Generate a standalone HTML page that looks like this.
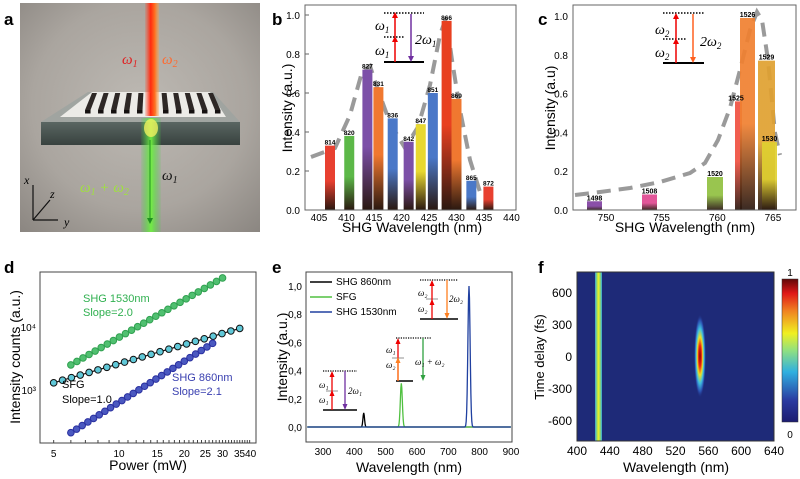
<!DOCTYPE html>
<html><head><meta charset="utf-8"><style>
html,body{margin:0;padding:0;background:#fff;}
svg{display:block;font-family:"Liberation Sans",Arial,sans-serif;}
</style></head><body>
<svg id="s" width="800" height="479" viewBox="0 0 800 479" xmlns="http://www.w3.org/2000/svg">
<defs>
<radialGradient id="bgA" cx="0.5" cy="0.45" r="0.75"><stop offset="0" stop-color="#bdb9b3"/><stop offset="0.6" stop-color="#aaa59f"/><stop offset="1" stop-color="#8a8580"/></radialGradient>
<linearGradient id="redB" x1="0" x2="1"><stop offset="0" stop-color="#ff4020" stop-opacity="0.15"/><stop offset="0.4" stop-color="#ff2a10"/><stop offset="0.7" stop-color="#ff7020"/><stop offset="1" stop-color="#ffa040" stop-opacity="0.3"/></linearGradient>
<linearGradient id="grnB" x1="0" x2="1"><stop offset="0" stop-color="#40d040" stop-opacity="0.1"/><stop offset="0.5" stop-color="#70f040"/><stop offset="1" stop-color="#40d040" stop-opacity="0.1"/></linearGradient>
<linearGradient id="slab" x1="0" y1="0" x2="0" y2="1"><stop offset="0" stop-color="#5a6662"/><stop offset="1" stop-color="#38423f"/></linearGradient>
<linearGradient id="jet" x1="0" y1="1" x2="0" y2="0"><stop offset="0" stop-color="#1c1c70"/><stop offset="0.15" stop-color="#2a3aa0"/><stop offset="0.35" stop-color="#30b0e0"/><stop offset="0.5" stop-color="#90e080"/><stop offset="0.62" stop-color="#f0f020"/><stop offset="0.78" stop-color="#f08020"/><stop offset="0.9" stop-color="#e01818"/><stop offset="1" stop-color="#600808"/></linearGradient>
<radialGradient id="spot" cx="0.5" cy="0.5" r="0.5"><stop offset="0" stop-color="#800000"/><stop offset="0.25" stop-color="#f02010"/><stop offset="0.45" stop-color="#f0e020"/><stop offset="0.65" stop-color="#40c0e0"/><stop offset="0.85" stop-color="#2a50b0"/><stop offset="1" stop-color="#1e2a78" stop-opacity="0"/></radialGradient>
<linearGradient id="band" x1="0" x2="1"><stop offset="0" stop-color="#30a0e0"/><stop offset="0.3" stop-color="#a0e060"/><stop offset="0.5" stop-color="#f0f020"/><stop offset="0.7" stop-color="#a0e060"/><stop offset="1" stop-color="#30a0e0"/></linearGradient>
</defs>

<!-- Panel a -->
<text x="4" y="25" font-size="17" font-weight="bold">a</text>
<rect x="20" y="3" width="240" height="229" fill="url(#bgA)"/>
<polygon points="88,92 213,92 240,122 41,122" fill="#9ea3a0" opacity="0.85"/>
<polygon points="41,122 240,122 240,145 41,145" fill="url(#slab)"/>
<polygon points="92,92 210,92 226,117 60,117" fill="#ecebe7"/>
<g id="grat" fill="#2e2826"></g>
<rect x="145" y="3" width="14" height="113" fill="url(#redB)"/>
<rect x="141" y="118" width="20" height="114" fill="url(#grnB)" opacity="0.95"/>
<ellipse cx="151" cy="128" rx="7" ry="9" fill="#f0f060" opacity="0.8"/>
<line x1="150" y1="140" x2="150" y2="220" stroke="#209020" stroke-width="1"/>
<polygon points="147,218 153,218 150,224" fill="#209020"/>
<text x="122" y="64" font-size="15" font-style="italic" fill="#e02020" font-family="Liberation Serif,serif">ω<tspan font-size="10" dy="3">1</tspan></text>
<text x="162" y="64" font-size="15" font-style="italic" fill="#ff6a30" font-family="Liberation Serif,serif">ω<tspan font-size="10" dy="3">2</tspan></text>
<text x="80" y="192" font-size="15" font-style="italic" fill="#a0e040" font-family="Liberation Serif,serif">ω<tspan font-size="10" dy="3">1</tspan><tspan dy="-3"> + ω</tspan><tspan font-size="10" dy="3">2</tspan></text>
<text x="162" y="180" font-size="15" font-style="italic" fill="#111" font-family="Liberation Serif,serif">ω<tspan font-size="10" dy="3">1</tspan></text>
<g stroke="#111" stroke-width="1.2" fill="none"><line x1="33" y1="220" x2="33" y2="185"/><line x1="33" y1="220" x2="58" y2="220"/><line x1="33" y1="220" x2="50" y2="200"/></g>
<text x="24" y="184" font-size="12" font-style="italic" font-family="Liberation Serif,serif">x</text>
<text x="50" y="198" font-size="12" font-style="italic" font-family="Liberation Serif,serif">z</text>
<text x="64" y="226" font-size="12" font-style="italic" font-family="Liberation Serif,serif">y</text>

<!-- Panel b -->
<text x="272" y="25" font-size="17" font-weight="bold">b</text>
<polyline points="311,157 335,148 350,115 362,72 370,66 378,90 390,123 405,148 418,127 430,85 440,35 446,18 452,60 460,110 470,160 480,192 492,198" fill="none" stroke="#888" stroke-width="4" stroke-dasharray="14,8" opacity="0.85"/>
<g id="bbars"></g>
<rect x="305" y="5" width="211" height="205" fill="none" stroke="#666" stroke-width="1"/>
<text transform="translate(292,108) rotate(-90)" font-size="14" text-anchor="middle">Intensity (a.u.)</text>
<text x="412" y="232" font-size="14" text-anchor="middle">SHG Wavelength (nm)</text>
<g stroke-width="1.5">
<line x1="384" y1="13" x2="424" y2="13" stroke="#000" stroke-dasharray="1.5,1.5"/>
<line x1="384" y1="37" x2="404" y2="37" stroke="#000" stroke-dasharray="1.5,1.5"/>
<line x1="384" y1="62" x2="424" y2="62" stroke="#000" stroke-width="2"/>
<line x1="395" y1="62" x2="395" y2="38" stroke="#e00"/><polygon points="392,42 398,42 395,36" fill="#e00"/>
<line x1="395" y1="37" x2="395" y2="14" stroke="#e00"/><polygon points="392,18 398,18 395,12" fill="#e00"/>
<line x1="411" y1="14" x2="411" y2="58" stroke="#7030a0"/><polygon points="408,56 414,56 411,62" fill="#7030a0"/>
<text x="375" y="30" font-size="14" font-style="italic" font-family="Liberation Serif,serif">ω<tspan font-size="9" dy="3">1</tspan></text>
<text x="375" y="55" font-size="14" font-style="italic" font-family="Liberation Serif,serif">ω<tspan font-size="9" dy="3">1</tspan></text>
<text x="415" y="44" font-size="14" font-style="italic" font-family="Liberation Serif,serif">2ω<tspan font-size="9" dy="3">1</tspan></text>
</g>

<!-- Panel c -->
<text x="538" y="25" font-size="17" font-weight="bold">c</text>
<polyline points="575,195 600,192 630,188 660,182 690,173 705,163 718,140 730,108 740,70 750,30 757,12 762,20 768,60 775,133 780,155" fill="none" stroke="#888" stroke-width="4" stroke-dasharray="14,8" opacity="0.85"/>
<g id="cbars"></g>
<rect x="573" y="5" width="223" height="205" fill="none" stroke="#666" stroke-width="1"/>
<text transform="translate(555,108) rotate(-90)" font-size="14" text-anchor="middle">Intensity (a.u)</text>
<text x="685" y="232" font-size="14" text-anchor="middle">SHG Wavelength (nm)</text>
<g stroke-width="1.5">
<line x1="663" y1="13" x2="704" y2="13" stroke="#000" stroke-dasharray="1.5,1.5"/>
<line x1="663" y1="39" x2="686" y2="39" stroke="#000" stroke-dasharray="1.5,1.5"/>
<line x1="663" y1="63" x2="704" y2="63" stroke="#000" stroke-width="2"/>
<line x1="676" y1="63" x2="676" y2="40" stroke="#e00"/><polygon points="673,44 679,44 676,38" fill="#e00"/>
<line x1="676" y1="39" x2="676" y2="15" stroke="#e00"/><polygon points="673,19 679,19 676,13" fill="#e00"/>
<line x1="693" y1="14" x2="693" y2="59" stroke="#ff6020"/><polygon points="690,57 696,57 693,63" fill="#ff6020"/>
<text x="655" y="34" font-size="14" font-style="italic" font-family="Liberation Serif,serif">ω<tspan font-size="9" dy="3">2</tspan></text>
<text x="655" y="57" font-size="14" font-style="italic" font-family="Liberation Serif,serif">ω<tspan font-size="9" dy="3">2</tspan></text>
<text x="700" y="46" font-size="14" font-style="italic" font-family="Liberation Serif,serif">2ω<tspan font-size="9" dy="3">2</tspan></text>
</g>

<!-- Panel d -->
<text x="4" y="273" font-size="17" font-weight="bold">d</text>
<rect x="40" y="272" width="216" height="171" fill="none" stroke="#444" stroke-width="1"/>
<g id="dplot"></g>
<text transform="translate(20,357) rotate(-90)" font-size="14" text-anchor="middle">Intensity counts (a.u.)</text>
<text x="148" y="470" font-size="14" text-anchor="middle">Power (mW)</text>
<text x="83" y="302" font-size="11" fill="#30b050">SHG 1530nm</text>
<text x="83" y="316" font-size="11" fill="#30b050">Slope=2.0</text>
<text x="62" y="388" font-size="11">SFG</text>
<text x="62" y="403" font-size="11">Slope=1.0</text>
<text x="172" y="381" font-size="11" fill="#3a40b0">SHG 860nm</text>
<text x="172" y="395" font-size="11" fill="#3a40b0">Slope=2.1</text>

<!-- Panel e -->
<text x="272" y="273" font-size="17" font-weight="bold">e</text>
<g id="eplot"></g>
<rect x="306" y="272" width="206" height="170" fill="none" stroke="#444" stroke-width="1"/>
<text transform="translate(287,357) rotate(-90)" font-size="14" text-anchor="middle">Intensity (a.u.)</text>
<text x="409" y="472" font-size="14" text-anchor="middle">Wavelength (nm)</text>
<g font-size="10">
<line x1="310" y1="282" x2="332" y2="282" stroke="#000" stroke-width="1.5"/><text x="336" y="285">SHG 860nm</text>
<line x1="310" y1="297" x2="332" y2="297" stroke="#50c040" stroke-width="1.5"/><text x="336" y="300">SFG</text>
<line x1="310" y1="312" x2="332" y2="312" stroke="#2040a0" stroke-width="1.5"/><text x="336" y="315">SHG 1530nm</text>
</g>
<g stroke-width="1.3" font-family="Liberation Serif,serif" font-style="italic" font-size="9">
<!-- diag 1 -->
<line x1="323" y1="371" x2="357" y2="371" stroke="#000" stroke-dasharray="1.2,1.2"/>
<line x1="323" y1="410" x2="357" y2="410" stroke="#000" stroke-width="1.6"/>
<line x1="326" y1="391" x2="338" y2="391" stroke="#aaa"/>
<line x1="332" y1="410" x2="332" y2="373" stroke="#e00"/><polygon points="329.5,377 334.5,377 332,371" fill="#e00"/><polygon points="329.5,396 334.5,396 332,390" fill="#e00"/>
<line x1="345" y1="371" x2="345" y2="405" stroke="#7030a0"/><polygon points="342.5,404 347.5,404 345,410" fill="#7030a0"/>
<text x="319" y="388" stroke="none">ω₁</text><text x="319" y="403" stroke="none">ω₁</text><text x="348" y="394" stroke="none">2ω₁</text>
<!-- diag 2 -->
<line x1="396" y1="338" x2="431" y2="338" stroke="#000" stroke-dasharray="1.2,1.2"/>
<line x1="396" y1="381" x2="413" y2="381" stroke="#000" stroke-width="1.6"/>
<line x1="392" y1="358" x2="404" y2="358" stroke="#aaa"/>
<line x1="398" y1="381" x2="398" y2="340" stroke="#e00"/><polygon points="395.5,344 400.5,344 398,338" fill="#e00"/>
<line x1="398" y1="381" x2="398" y2="360" stroke="#ff8020"/><polygon points="395.5,363 400.5,363 398,357" fill="#ff8020"/>
<line x1="423" y1="338" x2="423" y2="376" stroke="#30a040"/><polygon points="420.5,375 425.5,375 423,381" fill="#30a040"/>
<text x="386" y="353" stroke="none">ω₁</text><text x="386" y="368" stroke="none">ω₂</text><text x="415" y="365" stroke="none">ω₁ + ω₂</text>
<!-- diag 3 -->
<line x1="420" y1="280" x2="458" y2="280" stroke="#000" stroke-dasharray="1.2,1.2"/>
<line x1="420" y1="319" x2="458" y2="319" stroke="#000" stroke-width="1.6"/>
<line x1="426" y1="299" x2="438" y2="299" stroke="#aaa"/>
<line x1="432" y1="319" x2="432" y2="282" stroke="#e00"/><polygon points="429.5,286 434.5,286 432,280" fill="#e00"/><polygon points="429.5,305 434.5,305 432,299" fill="#e00"/>
<line x1="447" y1="280" x2="447" y2="314" stroke="#ff8020"/><polygon points="444.5,313 449.5,313 447,319" fill="#ff8020"/>
<text x="418" y="296" stroke="none">ω₂</text><text x="418" y="312" stroke="none">ω₂</text><text x="449" y="302" stroke="none">2ω₂</text>
</g>

<!-- Panel f -->
<text x="538" y="273" font-size="17" font-weight="bold">f</text>
<rect x="577" y="272" width="197" height="169" fill="#1e2a78"/>
<rect x="595" y="272" width="7" height="169" fill="url(#band)"/>
<ellipse cx="700" cy="356" rx="6" ry="42" fill="url(#spot)"/>
<rect x="577" y="272" width="197" height="169" fill="none" stroke="#333"/>
<text transform="translate(544,357) rotate(-90)" font-size="13" text-anchor="middle">Time delay (fs)</text>
<text x="676" y="472" font-size="14" text-anchor="middle">Wavelength (nm)</text>
<rect x="782" y="279" width="16" height="143" fill="url(#jet)" stroke="#333" stroke-width="0.5"/>
<text x="790" y="276" font-size="10" text-anchor="middle">1</text>
<text x="790" y="438" font-size="10" text-anchor="middle">0</text>
<g id="fticks"></g>
</svg>
<script>
const NS="http://www.w3.org/2000/svg";
function el(p,t,a,txt){const e=document.createElementNS(NS,t);for(const k in a)e.setAttribute(k,a[k]);if(txt!==undefined)e.textContent=txt;p.appendChild(e);return e;}
const defs=document.querySelector('defs');
// grating
const gg=document.getElementById('grat');
for(let i=0;i<11;i++){const bxb=92+i*11.6;const bxf=bxb-(150-bxb)*0.12;
 el(gg,'polygon',{points:`${bxb},93 ${bxb+5},93 ${bxf+5.5},110 ${bxf},110`});
 el(gg,'rect',{x:bxf,y:110,width:5.5,height:3.5,fill:'#151110'});}
let gid=0;
function grad(c){const id='g'+(gid++);const g=el(defs,'linearGradient',{id:id,x1:0,y1:0,x2:0,y2:1});el(g,'stop',{offset:0,'stop-color':c});el(g,'stop',{offset:0.55,'stop-color':c});el(g,'stop',{offset:1,'stop-color':'#2a1810'});return 'url(#'+id+')';}
// b
const gb=document.getElementById('bbars');
const bx=v=>319+(v-405)*5.5, by=v=>210-v*195;
[[407,.33,'#e84030','814'],[410.5,.38,'#5cb848','820'],[413.8,.72,'#7c50a8','827'],[415.8,.63,'#f07830','831'],[418.4,.47,'#4a78c8','836'],[421.3,.35,'#7c50a8','842'],[423.5,.44,'#e8d830','847'],[425.7,.60,'#4a78c8','851'],[428.2,.97,'#e84020','866'],[430.0,.57,'#f07830','869'],[432.7,.15,'#4a78c8','865'],[435.8,.12,'#e84030','872']].forEach(b=>{
 el(gb,'rect',{x:bx(b[0])-5,y:by(b[1]),width:10,height:b[1]*195,fill:grad(b[2])});});
[[407,.33,'814'],[410.5,.38,'820'],[413.8,.72,'827'],[415.8,.63,'831'],[418.4,.47,'836'],[421.3,.35,'842'],[423.5,.44,'847'],[425.7,.60,'851'],[428.2,.97,'866'],[430.0,.57,'869'],[432.7,.15,'865'],[435.8,.12,'872']].forEach(b=>
 el(gb,'text',{x:bx(b[0]),y:by(b[1])-1,'font-size':6.5,'text-anchor':'middle','font-weight':'bold'},b[2]));
for(let v=0;v<=1.001;v+=0.2){el(gb,'text',{x:300,y:by(v)+4,'font-size':10,'text-anchor':'end'},v.toFixed(1));el(gb,'line',{x1:305,x2:309,y1:by(v),y2:by(v),stroke:'#666'});}
for(let v=405;v<=440;v+=5){el(gb,'text',{x:bx(v),y:221,'font-size':10,'text-anchor':'middle'},v);}
// c
const gc=document.getElementById('cbars');
const cx=v=>606+(v-750)*11.13, cy=v=>210-v*194;
const cb=[[587,15,.045,'#8040a0','1498'],[642,15,.08,'#e04890','1508'],[707,16,.17,'#90c040','1520'],[735,7,.56,'#f05040','1525'],[740,15,.99,'#f08030','1526'],[758,17,.77,'#e0a030','1529'],[762,15,.35,'#e0d030','1530']];
cb.forEach(b=>el(gc,'rect',{x:b[0],y:cy(b[2]),width:b[1],height:b[2]*194,fill:grad(b[3]),opacity:0.92}));
cb.forEach(b=>el(gc,'text',{x:b[4]=='1525'?736:b[0]+b[1]/2,y:cy(b[2])-1,'font-size':7,'text-anchor':'middle','font-weight':'bold'},b[4]));
for(let v=0;v<=1.001;v+=0.2){el(gc,'text',{x:568,y:cy(v)+4,'font-size':10,'text-anchor':'end'},v.toFixed(1));}
for(let v=750;v<=765;v+=5){el(gc,'text',{x:cx(v),y:221,'font-size':10,'text-anchor':'middle'},v);}
// d
const gd=document.getElementById('dplot');
const dx=p=>119+Math.log10(p/10)*217, dy=c=>327-Math.log10(c/1e4)*63;
function series(p0,p1,c0,c1,n,col,fill){const pts=[];for(let i=0;i<n;i++){const p=p0*Math.pow(p1/p0,i/(n-1));const c=c0*Math.pow(c1/c0,Math.log(p/p0)/Math.log(p1/p0));pts.push([dx(p),dy(c)]);}
 el(gd,'polyline',{points:pts.map(a=>a.join(',')).join(' '),fill:'none',stroke:col,'stroke-width':1.2});
 pts.forEach(a=>el(gd,'circle',{cx:a[0],cy:a[1],r:3.3,fill:fill,stroke:col,'stroke-width':1}));}
series(6,30,2500,60000,26,'#30a050','#50c070');
series(5,36,1300,9500,22,'#111','#60c8d8');
series(6,27,210,5500,26,'#2a30a0','#4a58c0');
[5,10,15,20,25,30].forEach(v=>el(gd,'text',{x:dx(v),y:457,'font-size':10,'text-anchor':'middle'},v));
el(gd,'text',{x:dx(35)+8,y:457,'font-size':10,'text-anchor':'middle'},'3540');
el(gd,'text',{x:36,y:331,'font-size':10,'text-anchor':'end'},'10⁴');
el(gd,'text',{x:36,y:394,'font-size':10,'text-anchor':'end'},'10³');
for(let p=5;p<=40;p++){el(gd,'line',{x1:dx(p),x2:dx(p),y1:443,y2:440,stroke:'#444'});}
// e
const ge=document.getElementById('eplot');
const ex=v=>323+(v-300)*0.3133, ey=v=>427-v*141;
function peak(c,h,w,col){let pts=[];for(let v=250;v<=900;v+=1.5){pts.push(ex(v)+','+ey(h*Math.exp(-Math.pow((v-c)/w,2))));}el(ge,'polyline',{points:pts.join(' '),fill:'none',stroke:col,'stroke-width':1.3});}
peak(430,0.1,3.5,'#000');peak(550,0.31,4.5,'#50c040');peak(766,1.0,5,'#2040a0');
for(let v=0;v<=1.001;v+=0.2){el(ge,'text',{x:302,y:ey(v)+4,'font-size':10,'text-anchor':'end'},v.toFixed(1).replace('.',','));}
for(let v=300;v<=900;v+=100){el(ge,'text',{x:ex(v),y:455,'font-size':10,'text-anchor':'middle'},v);}
// f ticks
const gf=document.getElementById('fticks');
[[600,292],[300,324],[0,356],[-300,388],[-600,420]].forEach(a=>el(gf,'text',{x:572,y:a[1]+5,'font-size':12,'text-anchor':'end'},a[0]));
for(let v=400;v<=640;v+=40){el(gf,'text',{x:577+(v-400)*0.821,y:455,'font-size':12,'text-anchor':'middle'},v);}
</script>
</body></html>
